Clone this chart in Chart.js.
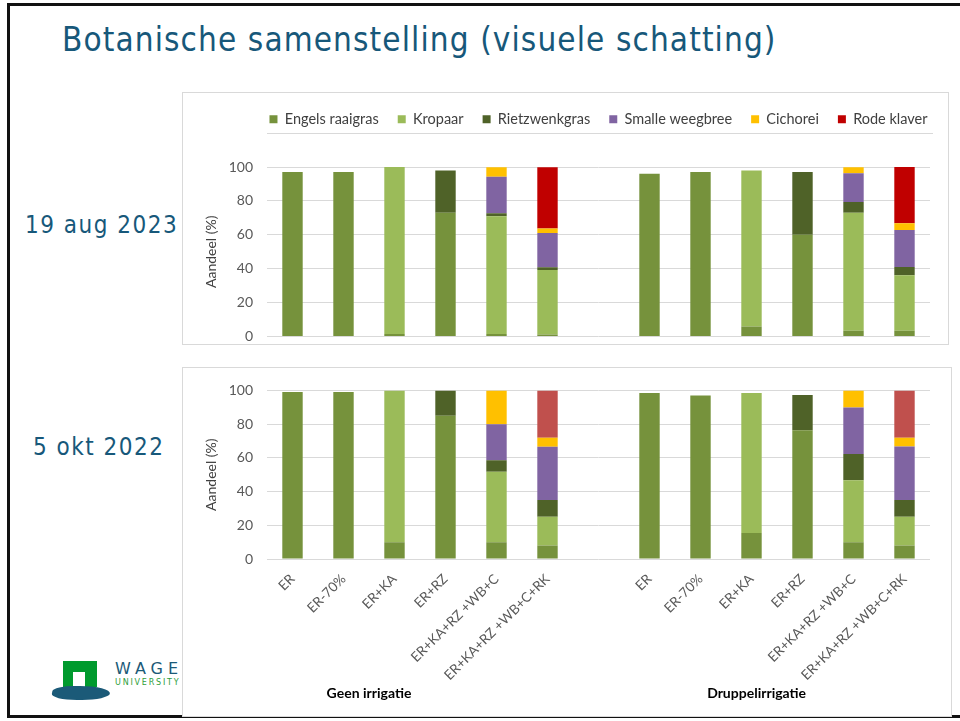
<!DOCTYPE html>
<html>
<head>
<meta charset="utf-8">
<script src="https://cdn.jsdelivr.net/npm/chart.js@4/dist/chart.umd.min.js"></script>
<style>
  body {
    margin: 0;
    width: 960px;
    height: 721px;
    background: #ffffff;
    position: relative;
    overflow: hidden;
  }

  .slide-frame {
    position: absolute;
    left: 7px;
    top: 3px;
    right: -10px;
    bottom: 3px;
    border: 3px solid #111111;
  }

  .title {
    position: absolute;
    left: 62px;
    top: 20px;
    font-family: "DejaVu Sans Condensed", "DejaVu Sans", sans-serif;
    font-stretch: condensed;
    font-size: 33px;
    letter-spacing: 1.1px;
    line-height: 40px;
    color: #17587a;
    white-space: nowrap;
  }

  .date-label {
    position: absolute;
    font-family: "DejaVu Sans Condensed", "DejaVu Sans", sans-serif;
    font-stretch: condensed;
    font-size: 24px;
    letter-spacing: 1.5px;
    line-height: 28px;
    color: #17587a;
    white-space: nowrap;
  }

  .panel {
    position: absolute;
    background: #ffffff;
    border: 1px solid #d9d9d9;
    overflow: hidden;
    z-index: 2;
  }

  .panel canvas {
    display: block;
  }

  /* logo, partly hidden behind the chart panel */
  .logo-arch {
    position: absolute;
    left: 63px;
    top: 661px;
    width: 34px;
    height: 26px;
    background: #009a2e;
  }

  .logo-arch div {
    position: absolute;
    left: 10px;
    top: 11px;
    width: 12px;
    height: 15px;
    background: #ffffff;
  }

  .logo-swoosh {
    position: absolute;
    left: 52px;
    top: 686px;
    width: 58px;
    height: 14px;
    background: #1b5a78;
    border-radius: 40% 60% 50% 50%;
    transform: skewX(-12deg);
  }

  .logo-name {
    position: absolute;
    left: 115px;
    top: 659px;
    font-family: "DejaVu Sans", sans-serif;
    font-size: 16px;
    letter-spacing: 5px;
    color: #1b5a78;
    white-space: nowrap;
  }

  .logo-sub {
    position: absolute;
    left: 115px;
    top: 678px;
    font-family: "DejaVu Sans", sans-serif;
    font-size: 8px;
    letter-spacing: 1.8px;
    color: #2e9e3a;
    white-space: nowrap;
  }
</style>
</head>
<body>

<div class="slide-frame"></div>

<div class="title">Botanische samenstelling (visuele schatting)</div>

<div class="date-label" style="left:25px; top:211px;">19 aug 2023</div>
<div class="date-label" style="left:33px; top:433px;">5 okt 2022</div>

<div class="logo-arch"><div></div></div>
<div class="logo-swoosh"></div>
<div class="logo-name">WAGENINGEN</div>
<div class="logo-sub">UNIVERSITY &amp; RESEARCH</div>

<div class="panel" style="left:182px; top:92px; width:765px; height:251px;">
  <canvas id="chartAug" width="765" height="266"></canvas>
</div>

<div class="panel" style="left:182px; top:367px; width:768px; height:348px;">
  <canvas id="chartOkt" width="768" height="348"></canvas>
</div>

<script>
/* =========================
   DATA
========================= */

const categories = [
  "ER", "ER-70%", "ER+KA", "ER+RZ", "ER+KA+RZ +WB+C", "ER+KA+RZ +WB+C+RK",
  "",
  "ER", "ER-70%", "ER+KA", "ER+RZ", "ER+KA+RZ +WB+C", "ER+KA+RZ +WB+C+RK"
];

const groupLabels = ["Geen irrigatie", "Druppelirrigatie"];

const speciesNames = [
  "Engels raaigras",
  "Kropaar",
  "Rietzwenkgras",
  "Smalle weegbree",
  "Cichorei",
  "Rode klaver"
];

const yTicks = [0, 20, 40, 60, 80, 100];

// 19 aug 2023 (%)
const augEngelsRaaigras = [97, 97, 1.5, 73, 1.5, 1.3, null, 96, 97, 6, 60, 3.5, 3.5];
const augKropaar = [0, 0, 98.5, 0, 69.5, 38, null, 0, 0, 92, 0, 69.5, 32.7];
const augRietzwenkgras = [0, 0, 0, 25, 1.8, 1.6, null, 0, 0, 0, 37, 6.3, 4.8];
const augSmalleWeegbree = [0, 0, 0, 0, 21.5, 20.2, null, 0, 0, 0, 0, 17, 21.9];
const augCichorei = [0, 0, 0, 0, 5.6, 2.6, null, 0, 0, 0, 0, 3.6, 4];
const augRodeKlaver = [0, 0, 0, 0, 0, 36.2, null, 0, 0, 0, 0, 0, 33.1];

// 5 okt 2022 (%)
const oktEngelsRaaigras = [99, 99, 10, 85, 10, 8, null, 98.4, 97, 15.4, 76.3, 10, 8];
const oktKropaar = [0, 0, 90, 0, 41.7, 17, null, 0, 0, 83, 0, 36.7, 17];
const oktRietzwenkgras = [0, 0, 0, 15, 6.9, 10, null, 0, 0, 0, 21, 15.6, 10];
const oktSmalleWeegbree = [0, 0, 0, 0, 21.3, 31.6, null, 0, 0, 0, 0, 27.6, 31.8];
const oktCichorei = [0, 0, 0, 0, 20.1, 5.3, null, 0, 0, 0, 0, 10.1, 5.1];
const oktRodeKlaver = [0, 0, 0, 0, 0, 28.1, null, 0, 0, 0, 0, 0, 28.1];

/* =========================
   STYLE
========================= */

const colorsAug = ["#76923c", "#9bbb59", "#4f6228", "#8064a2", "#ffc000", "#c00000"];
const colorsOkt = ["#76923c", "#9bbb59", "#4f6228", "#8064a2", "#ffc000", "#c0504d"];

const gridColor = "#d9d9d9";
const textColor = "#595959";

Chart.defaults.font.family = "Lato, 'Open Sans', sans-serif";
Chart.defaults.color = textColor;

function makeDatasets(seriesList, colors) {
  return seriesList.map((values, i) => ({
    label: speciesNames[i],
    data: values,
    backgroundColor: colors[i],
    borderWidth: 0,
    barPercentage: 0.4,
    categoryPercentage: 1.0
  }));
}

function makeScales(showXLabels, xHeight) {
  return {
    x: {
      stacked: true,
      grid: { display: false },
      border: { display: false },
      ticks: {
        display: showXLabels,
        autoSkip: false,
        minRotation: 45,
        maxRotation: 45,
        padding: 4,
        color: textColor,
        font: { size: 13.5 }
      },
      afterFit: (scale) => { scale.height = xHeight; }
    },
    y: {
      stacked: true,
      min: 0,
      max: 100,
      afterBuildTicks: (scale) => {
        scale.ticks = yTicks.map(v => ({ value: v }));
      },
      grid: {
        color: gridColor,
        drawTicks: false
      },
      border: { display: false },
      ticks: {
        padding: 14,
        color: textColor,
        font: { size: 14 }
      },
      title: {
        display: true,
        text: "Aandeel (%)",
        color: "#404040",
        font: { size: 14 },
        padding: { top: 20, bottom: 0 }
      },
      afterFit: (scale) => { scale.width = 84; }
    }
  };
}

/* =========================
   TOP CHART (19 aug 2023)
========================= */

// keep the legend on one row, a bit wider than the plot, with a fixed height
const legendHeightPlugin = {
  id: "legendHeight",
  beforeInit(chart) {
    if (!chart.legend) return;
    const originalFit = chart.legend.fit;
    chart.legend.fit = function () {
      this.maxWidth = 800;
      originalFit.call(this);
      this.height = 74;
    };
  },
  afterLayout(chart) {
    const legend = chart.legend;
    if (!legend) return;
    legend.left -= 40;
    legend.right += 40;
    legend.width = legend.right - legend.left;
  },
  afterDraw(chart) {
    const { ctx, chartArea } = chart;
    ctx.save();
    ctx.strokeStyle = gridColor;
    ctx.lineWidth = 1;
    ctx.beginPath();
    ctx.moveTo(chartArea.left, 40.5);
    ctx.lineTo(chartArea.right + 3, 40.5);
    ctx.stroke();
    ctx.restore();
  }
};

const augChart = new Chart(document.getElementById("chartAug"), {
  type: "bar",
  data: {
    labels: categories,
    datasets: makeDatasets(
      [augEngelsRaaigras, augKropaar, augRietzwenkgras, augSmalleWeegbree, augCichorei, augRodeKlaver],
      colorsAug
    )
  },
  options: {
    responsive: false,
    animation: false,
    layout: { padding: { top: 0, right: 18, bottom: 6, left: 0 } },
    plugins: {
      legend: {
        position: "top",
        fullSize: false,
        labels: {
          boxWidth: 8,
          boxHeight: 8,
          padding: 19,
          color: "#404040",
          font: { size: 14.5 }
        }
      },
      tooltip: { enabled: false }
    },
    scales: makeScales(false, 0)
  },
  plugins: [legendHeightPlugin]
});

/* =========================
   BOTTOM CHART (5 okt 2022)
========================= */

const groupLabelPlugin = {
  id: "groupLabels",
  afterDraw(chart) {
    const { ctx } = chart;
    const xScale = chart.scales.x;
    const positions = [1.5, 9.1];
    ctx.save();
    ctx.fillStyle = "#000000";
    ctx.font = "bold 14px Lato, 'Open Sans', sans-serif";
    ctx.textAlign = "center";
    ctx.textBaseline = "middle";
    groupLabels.forEach((text, i) => {
      ctx.fillText(text, xScale.getPixelForValue(positions[i]), 325);
    });
    ctx.restore();
  }
};

const oktChart = new Chart(document.getElementById("chartOkt"), {
  type: "bar",
  data: {
    labels: categories,
    datasets: makeDatasets(
      [oktEngelsRaaigras, oktKropaar, oktRietzwenkgras, oktSmalleWeegbree, oktCichorei, oktRodeKlaver],
      colorsOkt
    )
  },
  options: {
    responsive: false,
    animation: false,
    layout: { padding: { top: 22, right: 21, bottom: 0, left: 0 } },
    plugins: {
      legend: { display: false },
      tooltip: { enabled: false }
    },
    scales: makeScales(true, 157)
  },
  plugins: [groupLabelPlugin]
});
</script>
</body>
</html>
